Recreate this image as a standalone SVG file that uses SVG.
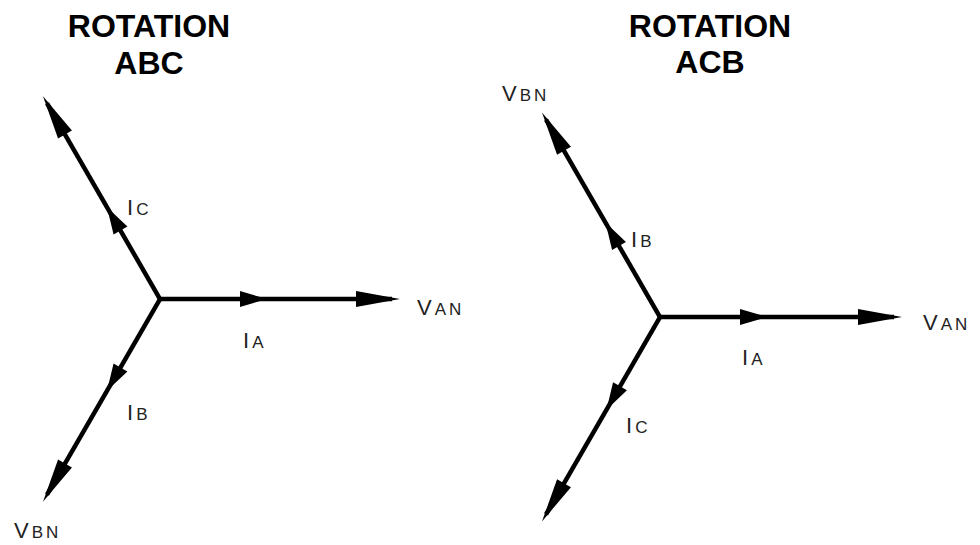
<svg xmlns="http://www.w3.org/2000/svg" width="980" height="545" viewBox="0 0 980 545">
<style>
.title{font-family:"Liberation Sans",Arial,sans-serif;font-weight:bold;font-size:32px;fill:#000;text-anchor:middle}
.lbl{font-family:"Liberation Sans",Arial,sans-serif;font-size:22px;fill:#222;letter-spacing:3px}
.sub{font-size:17px}
.shaft{stroke:#000;stroke-width:4.5;fill:none}
</style>
<defs>
<polygon id="midHead" points="0,0 -27,-8 -27,8" fill="#000"/>
<polygon id="endHead" points="0,0 -44,-8 -44,8" fill="#000"/>
</defs>
<rect width="980" height="545" fill="#fff"/>
<g id="title-abc"><text class="title" x="149" y="37">ROTATION</text><text class="title" x="149" y="74">ABC</text></g>
<g id="title-acb"><text class="title" x="710" y="37">ROTATION</text><text class="title" x="710" y="73">ACB</text></g>
<g id="connectors">
<g id="abc-ia" transform="translate(160,299)"><line class="shaft" x1="0" y1="0" x2="232" y2="0"/><use href="#midHead" x="107"/><use href="#endHead" x="240"/></g>
<g id="abc-ic" transform="translate(160,299) rotate(-120)"><line class="shaft" x1="0" y1="0" x2="226" y2="0"/><use href="#midHead" x="106"/><use href="#endHead" x="234"/></g>
<g id="abc-ib" transform="translate(160,299) rotate(120)"><line class="shaft" x1="0" y1="0" x2="226" y2="0"/><use href="#midHead" x="106"/><use href="#endHead" x="234"/></g>
<g id="acb-ia" transform="translate(660,317)"><line class="shaft" x1="0" y1="0" x2="234" y2="0"/><use href="#midHead" x="107"/><use href="#endHead" x="242"/></g>
<g id="acb-ib" transform="translate(660,317) rotate(-120)"><line class="shaft" x1="0" y1="0" x2="228" y2="0"/><use href="#midHead" x="109"/><use href="#endHead" x="236"/></g>
<g id="acb-ic" transform="translate(660,317) rotate(120)"><line class="shaft" x1="0" y1="0" x2="228" y2="0"/><use href="#midHead" x="107"/><use href="#endHead" x="236"/></g>
</g>
<g id="abc-labels">
<text class="lbl" x="127" y="215">I<tspan class="sub">C</tspan></text>
<text class="lbl" x="243" y="348">I<tspan class="sub">A</tspan></text>
<text class="lbl" x="127" y="420">I<tspan class="sub">B</tspan></text>
<text class="lbl" x="417" y="315">V<tspan class="sub">AN</tspan></text>
<text class="lbl" x="14" y="538">V<tspan class="sub">BN</tspan></text>
</g>
<g id="acb-labels">
<text class="lbl" x="502" y="101">V<tspan class="sub">BN</tspan></text>
<text class="lbl" x="631" y="247">I<tspan class="sub">B</tspan></text>
<text class="lbl" x="923" y="330">V<tspan class="sub">AN</tspan></text>
<text class="lbl" x="742" y="365">I<tspan class="sub">A</tspan></text>
<text class="lbl" x="626" y="433">I<tspan class="sub">C</tspan></text>
</g>
</svg>
